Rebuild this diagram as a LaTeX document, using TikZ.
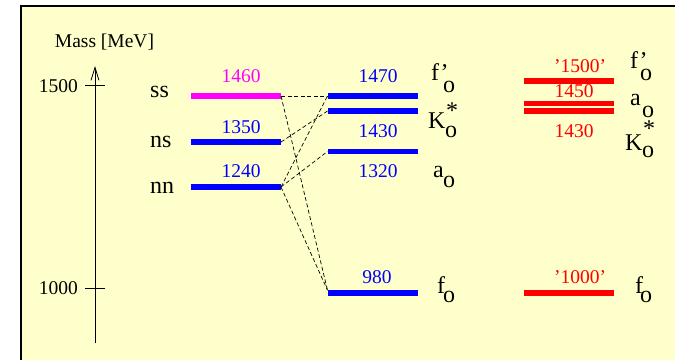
\documentclass[tikz,border=0pt]{standalone}
\usepackage{fontspec}
\setmainfont{Liberation Serif}
\usetikzlibrary{arrows.meta}
\definecolor{bgyellow}{RGB}{255,255,204}
\definecolor{pmag}{RGB}{255,0,255}
\definecolor{pblue}{RGB}{0,0,255}
\definecolor{pred}{RGB}{255,0,0}
\begin{document}
\begin{tikzpicture}[x=1pt,y=-1pt,
  num/.style={font=\fontsize{19.5}{23}\selectfont, inner sep=0pt, anchor=base},
  lab/.style={font=\fontsize{24}{28}\selectfont, inner sep=0pt, anchor=base west},
  bar/.style={draw=none, minimum width=90pt, minimum height=5.5pt, inner sep=0pt, outer sep=0pt},
  mix/.style={dash pattern=on 4pt off 2.5pt, line width=0.7pt}]
\useasboundingbox (0,0) rectangle (675,359);
% frame
\fill[bgyellow] (21,6) rectangle (676,360);
\draw[line width=2pt] (21,361) -- (21,6) -- (677,6);
% axis
\draw[line width=0.8pt, -{Straight Barb[length=13pt,width=8pt,line width=0.8pt]}] (95,343) -- (95,66);
\draw[line width=0.8pt] (85,85) -- (105,85);
\draw[line width=0.8pt] (85,288) -- (105,288);
\node[num, anchor=base east] (t1500) at (78,92) {1500};
\node[num, anchor=base east] (t1000) at (78,294) {1000};
\node[num] (mass) at (104.5,47) {Mass [MeV]};
% quark content labels
\node[lab] (lss) at (150,97) {ss};
\node[lab] (lns) at (150,147) {ns};
\node[lab] (lnn) at (150,193) {nn};
% column 1 bars
\node[bar,fill=pmag] (ss) at (236,96) {};
\node[bar,fill=pblue] (ns) at (236,142) {};
\node[bar,fill=pblue] (nn) at (236,187) {};
\node[num,text=pmag] (v1460) at (241,82) {1460};
\node[num,text=pblue] (v1350) at (241,133) {1350};
\node[num,text=pblue] (v1240) at (241,177) {1240};
% column 2 bars
\node[bar,fill=pblue] (m1470) at (372.5,96) {};
\node[bar,fill=pblue] (m1430) at (372.5,111) {};
\node[bar,fill=pblue] (m1320) at (372.5,151.5) {};
\node[bar,fill=pblue] (m980) at (372.5,293) {};
\node[num,text=pblue] (v1470) at (378,82) {1470};
\node[num,text=pblue] (v1430) at (378,137) {1430};
\node[num,text=pblue] (v1320) at (378,177) {1320};
\node[num,text=pblue] (v980) at (377,283) {980};
% column 2 names
\node[lab] (fp2) at (431,80) {f'};
\node[lab] (fp2o) at (443,92) {o};
\node[lab] (k2) at (428,128) {K};
\node[lab] (k2s) at (446,118.5) {*};
\node[lab] (k2o) at (445,137) {o};
\node[lab] (a2) at (433,177) {a};
\node[lab] (a2o) at (443,187) {o};
\node[lab] (f2) at (437,293) {f};
\node[lab] (f2o) at (443,302) {o};
% column 3 bars
\node[bar,fill=pred] (r1500) at (569,81) {};
\node[bar,fill=pred] (r1450) at (569,103.3) {};
\node[bar,fill=pred] (r1430) at (569,111.2) {};
\node[bar,fill=pred] (r1000) at (569,293) {};
\node[num,text=pred] (v1500) at (580,72) {'1500'};
\node[num,text=pred] (w1450) at (574,97) {1450};
\node[num,text=pred] (w1430) at (574,137) {1430};
\node[num,text=pred] (v1000) at (580,283) {'1000'};
% column 3 names
\node[lab] (fp3) at (630,68) {f'};
\node[lab] (fp3o) at (640,80) {o};
\node[lab] (a3) at (630,105) {a};
\node[lab] (a3o) at (642,117) {o};
\node[lab] (k3) at (625,150) {K};
\node[lab] (k3s) at (643,136.5) {*};
\node[lab] (k3o) at (642,157) {o};
\node[lab] (f3) at (635,293) {f};
\node[lab] (f3o) at (640,302) {o};
% mixing connectors
\draw[mix] (ss.east) -- (m1470.west);
\draw[mix] (ss.east) -- (m980.north west);
\draw[mix] (ns.east) -- (m1430.west);
\draw[mix] (nn.east) -- (m1470.west);
\draw[mix] (nn.east) -- (m1320.west);
\draw[mix] (nn.east) -- (m980.north west);
\end{tikzpicture}
\end{document}
